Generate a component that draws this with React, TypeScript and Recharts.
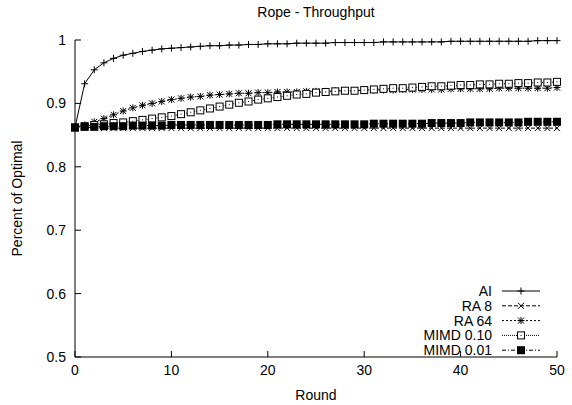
import React from 'react';
import { LineChart, Line, XAxis, YAxis, Legend } from 'recharts';

const rounds = Array.from({ length: 51 }, (_, i) => i);

const ai = [
  0.862, 0.931, 0.953, 0.964, 0.971, 0.976, 0.979, 0.982, 0.984, 0.986,
  0.987, 0.988, 0.989, 0.99, 0.991, 0.991, 0.992, 0.992, 0.993, 0.993,
  0.994, 0.994, 0.994, 0.995, 0.995, 0.995, 0.995, 0.996, 0.996, 0.996,
  0.996, 0.996, 0.997, 0.997, 0.997, 0.997, 0.997, 0.997, 0.997, 0.998,
  0.998, 0.998, 0.998, 0.998, 0.998, 0.998, 0.998, 0.998, 0.999, 0.999,
  0.999,
];
const ra8 = [
  0.862, 0.862, 0.862, 0.861, 0.861, 0.861, 0.861, 0.861, 0.861, 0.861,
  0.861, 0.861, 0.861, 0.861, 0.861, 0.861, 0.861, 0.861, 0.861, 0.861,
  0.861, 0.861, 0.861, 0.861, 0.861, 0.861, 0.861, 0.861, 0.861, 0.861,
  0.861, 0.861, 0.861, 0.861, 0.861, 0.861, 0.861, 0.861, 0.861, 0.861,
  0.861, 0.861, 0.861, 0.861, 0.861, 0.861, 0.861, 0.861, 0.861, 0.861,
  0.861,
];
const ra64 = [
  0.862, 0.866, 0.871, 0.876, 0.882, 0.888, 0.893, 0.897, 0.9, 0.903,
  0.906, 0.908, 0.91, 0.911, 0.913, 0.914, 0.915, 0.916, 0.916, 0.917,
  0.917, 0.918, 0.918, 0.918, 0.919, 0.919, 0.919, 0.92, 0.92, 0.92,
  0.921, 0.921, 0.921, 0.921, 0.922, 0.922, 0.922, 0.922, 0.922, 0.923,
  0.923, 0.923, 0.923, 0.923, 0.924, 0.924, 0.924, 0.924, 0.924, 0.924,
  0.925,
];
const mimd10 = [
  0.862, 0.864, 0.866, 0.867, 0.869, 0.87, 0.872, 0.874, 0.876, 0.878,
  0.88, 0.883, 0.886, 0.889, 0.892, 0.895, 0.898, 0.901, 0.903, 0.906,
  0.908, 0.91, 0.912, 0.914, 0.915, 0.917, 0.918, 0.919, 0.92, 0.92,
  0.921, 0.922, 0.923, 0.924, 0.924, 0.925, 0.926, 0.927, 0.927, 0.928,
  0.929, 0.929, 0.93, 0.93, 0.931, 0.931, 0.932, 0.932, 0.933, 0.933,
  0.934,
];
const mimd01 = [
  0.862, 0.863, 0.863, 0.864, 0.864, 0.864, 0.865, 0.865, 0.865, 0.865,
  0.866, 0.866, 0.866, 0.866, 0.866, 0.866, 0.866, 0.866, 0.866, 0.866,
  0.866, 0.867, 0.867, 0.867, 0.867, 0.867, 0.867, 0.867, 0.867, 0.867,
  0.867, 0.868, 0.868, 0.868, 0.868, 0.868, 0.868, 0.869, 0.869, 0.869,
  0.869, 0.87, 0.87, 0.87, 0.87, 0.87, 0.87, 0.871, 0.871, 0.871,
  0.871,
];

const xTicks = [0, 10, 20, 30, 40, 50];
const yTicks = [0.5, 0.6, 0.7, 0.8, 0.9, 1];

const data = rounds.map((r, i) => ({
  round: r,
  ai: ai[i],
  ra8: ra8[i],
  ra64: ra64[i],
  mimd10: mimd10[i],
  mimd01: mimd01[i],
}));

const FONT = '"Liberation Sans", Arial, sans-serif';
const FS = 14;

type Shape = 'plus' | 'cross' | 'star' | 'box' | 'fbox';

const Marker = ({ cx, cy, shape }: { cx: number; cy: number; shape: Shape }) => {
  const s = 3.5;
  if (shape === 'plus')
    return (
      <path d={`M${cx - s},${cy}H${cx + s}M${cx},${cy - s}V${cy + s}`} stroke="#000" strokeWidth={1} fill="none" />
    );
  if (shape === 'cross')
    return (
      <path d={`M${cx - 3},${cy - 3}L${cx + 3},${cy + 3}M${cx - 3},${cy + 3}L${cx + 3},${cy - 3}`} stroke="#000" strokeWidth={1} fill="none" />
    );
  if (shape === 'star')
    return (
      <path
        d={`M${cx - s},${cy}H${cx + s}M${cx},${cy - s}V${cy + s}M${cx - 3},${cy - 3}L${cx + 3},${cy + 3}M${cx - 3},${cy + 3}L${cx + 3},${cy - 3}`}
        stroke="#000"
        strokeWidth={1}
        fill="none"
      />
    );
  if (shape === 'box')
    return (
      <g>
        <rect x={cx - 3.5} y={cy - 3.5} width={7} height={7} stroke="#000" strokeWidth={1} fill="#fff" />
        <rect x={cx - 0.5} y={cy - 0.5} width={1} height={1} fill="#000" />
      </g>
    );
  return <rect x={cx - 4} y={cy - 4} width={8} height={8} fill="#000" />;
};

const series: { key: string; name: string; dash?: string; shape: Shape }[] = [
  { key: 'ai', name: 'AI', shape: 'plus' },
  { key: 'ra8', name: 'RA 8', dash: '4 2', shape: 'cross' },
  { key: 'ra64', name: 'RA 64', dash: '2 2', shape: 'star' },
  { key: 'mimd10', name: 'MIMD 0.10', dash: '1 1', shape: 'box' },
  { key: 'mimd01', name: 'MIMD 0.01', dash: '4 2 1 2', shape: 'fbox' },
];

const LegendBox = () => (
  <svg width={170} height={80} style={{ display: 'block', overflow: 'visible' }}>
    {series.map((s, i) => {
      const y = 6 + i * 14.8;
      return (
        <g key={s.key}>
          <text x={112} y={y + 5} textAnchor="end" fontFamily={FONT} fontSize={FS} fill="#000">
            {s.name}
          </text>
          <line x1={122} x2={160} y1={y} y2={y} stroke="#000" strokeWidth={1} strokeDasharray={s.dash} />
          <Marker cx={141} cy={y} shape={s.shape} />
        </g>
      );
    })}
  </svg>
);

const YTitle = ({ viewBox }: any) => {
  const cy = viewBox.y + viewBox.height / 2;
  return (
    <text x={22} y={cy} transform={`rotate(-90 22 ${cy})`} textAnchor="middle" fontFamily={FONT} fontSize={FS} fill="#000">
      Percent of Optimal
    </text>
  );
};

export default function App() {
  const tickStyle = { fontFamily: FONT, fontSize: FS, fill: '#000' };
  return (
    <div style={{ position: 'absolute', left: 0, top: 0, width: 572, height: 405, background: '#fff' }}>
      <div
        style={{
          position: 'absolute',
          left: 74,
          width: 484,
          top: 4,
          textAlign: 'center',
          fontFamily: FONT,
          fontSize: FS,
        }}
      >
        Rope - Throughput
      </div>
      <LineChart width={572} height={405} data={data} margin={{ top: 40, right: 15, bottom: 0, left: 0 }}>
        <XAxis
          dataKey="round"
          type="number"
          domain={[0, 50]}
          ticks={xTicks}
          height={48}
          stroke="#000"
          tickSize={-6}
          tickMargin={14}
          tick={tickStyle}
          label={{ value: 'Round', position: 'insideBottom', offset: 5, style: { fontFamily: FONT, fontSize: FS, fill: '#000' } }}
        />
        <XAxis xAxisId="top" orientation="top" dataKey="round" type="number" domain={[0, 50]} ticks={xTicks} height={0} stroke="#000" tickSize={-6} tick={false} />
        <YAxis
          type="number"
          domain={[0.5, 1]}
          ticks={yTicks}
          width={75}
          stroke="#000"
          tickSize={-6}
          tickMargin={15}
          tick={tickStyle}
          tickFormatter={(v: number) => (v === 1 ? '1' : v.toFixed(1))}
          label={<YTitle />}
        />
        <YAxis yAxisId="right" orientation="right" type="number" domain={[0.5, 1]} ticks={yTicks} width={0} stroke="#000" tickSize={-6} tick={false} />
        {series.map((s) => (
          <Line
            key={s.key}
            dataKey={s.key}
            name={s.name}
            type="linear"
            stroke="#000"
            strokeWidth={1}
            strokeDasharray={s.dash}
            isAnimationActive={false}
            dot={(p: any) => <Marker key={`${s.key}-${p.index}`} cx={p.cx} cy={p.cy} shape={s.shape} />}
            activeDot={false}
          />
        ))}
        <Legend
          layout="vertical"
          align="center"
          verticalAlign="middle"
          wrapperStyle={{ left: 380, top: 285, width: 170 }}
          content={() => <LegendBox />}
        />
      </LineChart>
    </div>
  );
}
